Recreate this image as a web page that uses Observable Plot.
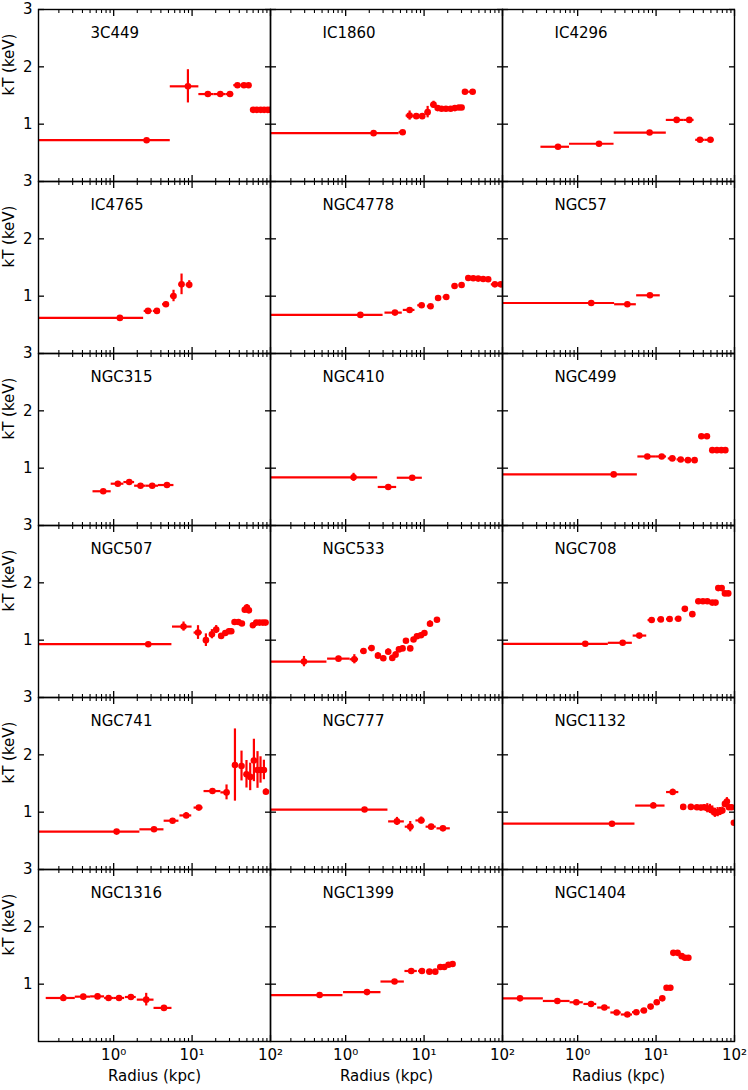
<!DOCTYPE html>
<html><head><meta charset="utf-8">
<script src="https://cdn.jsdelivr.net/npm/d3@7"></script>
<script src="https://cdn.jsdelivr.net/npm/@observablehq/plot@0.6"></script>
<style>body{margin:0;background:#fff}</style>
</head><body><div id="chart"></div>
<script>
// Each row: [radius kpc, radius low, radius high, kT keV, kT error]
const galaxies = ["3C449","IC1860","IC4296","IC4765","NGC4778","NGC57","NGC315","NGC410","NGC499",
  "NGC507","NGC533","NGC708","NGC741","NGC777","NGC1132","NGC1316","NGC1399","NGC1404"];

const g3C449 = [[2.63,0.01,5.27,0.72,0.02],[8.85,5.27,12.2,1.66,0.29],[15.9,12.2,19.0,1.525,0.02],[22.9,19.0,27.0,1.525,0.02],
  [30.4,27.0,34.0,1.525,0.02],[37.9,34.0,42.0,1.68,0.02],[45.8,42.0,49.0,1.68,0.02],[52.5,49.0,55.0,1.68,0.02],
  [60,56,63,1.25,0.02],[67,63,71,1.25,0.02],[75,71,79,1.25,0.02],[83,79,87,1.25,0.02],[92,87,96,1.25,0.02],[100,96,104,1.25,0.02]];
const gIC1860 = [[2.27,0.01,4.8,0.843,0.02],[5.33,4.8,5.9,0.86,0.03],[6.54,5.9,7.2,1.15,0.08],[7.95,7.2,8.7,1.14,0.04],
  [9.47,8.7,10.3,1.14,0.04],[11.1,10.3,12.1,1.21,0.10],[13.2,12.1,14.0,1.34,0.06],[14.9,14.0,15.8,1.28,0.03],
  [16.7,15.8,17.8,1.27,0.03],[19.0,17.8,20.4,1.27,0.03],[21.8,20.4,23.2,1.27,0.03],[24.7,23.2,26.2,1.28,0.03],
  [27.8,26.2,29.0,1.29,0.03],[30.1,29.0,31.5,1.29,0.03],[33.2,31.5,37.0,1.565,0.03],[41.6,37.0,46.0,1.565,0.03]];
const gIC4296 = [[0.561,0.34,0.787,0.606,0.02],[1.87,0.787,2.91,0.658,0.02],[8.27,2.92,13.5,0.854,0.02],
  [18.3,13.5,22.5,1.074,0.02],[26.5,22.5,30.5,1.074,0.02],[36.3,32.0,42.0,0.727,0.02],[49.3,42.0,55.0,0.727,0.02]];
const gIC4765 = [[1.20,0.01,2.41,0.621,0.02],[2.74,2.45,3.1,0.743,0.03],[3.56,3.2,3.95,0.743,0.03],[4.64,4.2,5.1,0.859,0.04],
  [5.80,5.3,6.3,1.003,0.10],[7.34,6.8,7.9,1.206,0.18],[9.2,8.4,10.0,1.20,0.07]];
const gNGC4778 = [[1.54,0.01,3.0,0.673,0.02],[4.25,3.17,5.27,0.713,0.02],[6.54,5.43,7.65,0.76,0.02],[9.3,8.3,10.3,0.841,0.02],
  [12.1,11.0,13.0,0.824,0.02],[15.1,14.0,16.2,0.968,0.03],[19.2,17.5,20.8,0.986,0.03],[24.5,22.8,26.0,1.177,0.03],
  [30.1,28.0,32.0,1.194,0.03],[36.6,34.5,39.0,1.317,0.02],[42.4,39.5,45.5,1.312,0.02],[49.0,46.0,52.5,1.306,0.02],
  [56.7,53.0,61.0,1.30,0.02],[65.7,61.5,70.0,1.294,0.02],[80,72,88,1.206,0.02],[95,88,102,1.206,0.02]];
const gNGC57 = [[1.49,0.01,2.96,0.881,0.02],[4.30,2.96,5.6,0.859,0.03],[8.35,5.65,11.3,1.015,0.03]];
const gNGC315 = [[0.736,0.545,0.93,0.597,0.02],[1.13,0.93,1.35,0.729,0.04],[1.58,1.35,1.85,0.758,0.04],
  [2.20,1.85,2.6,0.694,0.03],[3.10,2.6,3.73,0.694,0.03],[4.78,3.73,5.87,0.706,0.03]];
const gNGC410 = [[1.26,0.01,2.56,0.84,0.07],[3.49,2.6,4.47,0.672,0.04],[7.06,4.55,9.5,0.833,0.03]];
const gNGC499 = [[2.88,0.01,5.77,0.891,0.02],[7.73,5.86,10.1,1.204,0.02],[11.8,10.1,13.6,1.204,0.02],[16.1,14.3,18.0,1.17,0.02],
  [20.6,18.5,22.8,1.152,0.02],[25.5,23.2,28.0,1.14,0.02],[31.0,28.5,33.5,1.14,0.02],[37.8,35.5,41.0,1.556,0.03],
  [44.5,41.0,47.5,1.556,0.03],[52.1,49.5,55.5,1.314,0.02],[59.7,56.0,63.5,1.314,0.02],[67.9,64.0,72.0,1.314,0.02],
  [76.4,72.0,80.5,1.314,0.02]];
const gNGC507 = [[2.76,0.01,5.53,0.93,0.02],[7.78,5.63,10.0,1.237,0.08],[11.9,10.6,13.5,1.133,0.12],[15.0,14.0,16.2,1.0,0.11],
  [17.9,16.8,19.1,1.104,0.08],[20.3,19.4,21.4,1.185,0.07],[23.5,22.2,24.8,1.074,0.04],[26.5,25.2,27.8,1.126,0.04],
  [29.5,28.2,30.6,1.156,0.04],[31.6,30.6,33.0,1.156,0.04],[34.8,33.0,36.8,1.317,0.03],[39.0,37.0,41.0,1.317,0.03],
  [43.2,41.0,45.5,1.29,0.03],[47.0,45.5,48.8,1.53,0.05],[50.0,48.8,51.5,1.57,0.05],[53.0,51.5,55.0,1.52,0.05],
  [59.7,56.5,62.5,1.26,0.03],[65.8,62.5,69.0,1.306,0.03],[72.5,69.0,76.0,1.306,0.03],[80.0,76.0,83.5,1.306,0.03],
  [86.5,83.5,90.0,1.306,0.03]];
const gNGC533 = [[0.294,0.01,0.577,0.626,0.09],[0.81,0.588,1.14,0.678,0.04],[1.29,1.14,1.46,0.667,0.08],[1.69,1.55,1.84,0.81,0.04],
  [2.14,1.95,2.33,0.862,0.04],[2.58,2.42,2.76,0.73,0.05],[3.02,2.84,3.2,0.684,0.04],[3.49,3.3,3.7,0.799,0.05],
  [3.93,3.72,4.13,0.69,0.05],[4.33,4.15,4.55,0.747,0.05],[4.78,4.58,5.0,0.839,0.04],[5.32,5.05,5.6,0.856,0.04],
  [5.87,5.62,6.15,0.989,0.04],[6.66,6.3,7.0,0.856,0.04],[7.34,7.05,7.7,1.011,0.04],[8.11,7.75,8.5,1.069,0.04],
  [9.12,8.6,9.6,1.086,0.04],[10.1,9.65,10.6,1.126,0.04],[11.9,11.2,12.6,1.287,0.05],[14.6,13.8,15.5,1.356,0.03]];
const gNGC708 = [[1.25,0.01,2.46,0.937,0.02],[3.75,2.46,4.98,0.954,0.02],[6.11,5.1,7.6,1.08,0.02],[8.78,7.9,9.7,1.351,0.03],
  [11.5,10.5,12.6,1.362,0.02],[14.9,13.6,16.2,1.368,0.02],[19.2,17.5,21.0,1.374,0.02],[23.3,21.6,25.0,1.546,0.03],
  [29.0,27.0,31.0,1.454,0.03],[34.6,32.5,37.0,1.678,0.02],[39.6,37.0,42.3,1.678,0.02],[45.0,42.3,48.5,1.678,0.02],
  [52.0,49.0,55.0,1.655,0.02],[57.3,55.0,60.0,1.655,0.02],[62.1,60.0,65.0,1.908,0.03],[68.6,65.0,72.0,1.908,0.03],
  [75.5,72.0,79.0,1.816,0.03],[83.2,79.0,87.0,1.816,0.03]];
const gNGC741 = [[1.09,0.01,2.16,0.661,0.02],[3.27,2.16,4.38,0.701,0.02],[5.64,4.4,6.8,0.851,0.02],[8.42,7.0,9.9,0.943,0.05],
  [12.2,10.6,13.8,1.08,0.03],[18.2,14.2,23.3,1.368,0.03],[27.5,23.3,30.5,1.345,0.13],[35.2,33.0,38.0,1.822,0.63],
  [42.7,40.5,45.0,1.805,0.26],[49.4,47.0,52.0,1.661,0.24],[55.1,52.5,58.0,1.615,0.24],[61.4,58.5,64.5,1.902,0.37],
  [68.3,65.0,71.5,1.736,0.32],[74.6,71.5,78.0,1.736,0.23],[82.4,78.5,86.0,1.736,0.17],[87.4,85.0,90.0,1.356,0.05]];
const gNGC777 = [[1.74,0.01,3.46,1.046,0.02],[4.51,3.53,5.6,0.839,0.07],[6.66,5.75,7.48,0.747,0.09],[9.2,7.87,10.3,0.856,0.06],
  [12.3,10.6,14.3,0.747,0.04],[17.4,14.6,21.6,0.718,0.03]];
const gNGC1132 = [[2.74,0.01,5.38,0.799,0.02],[9.22,5.49,13.0,1.115,0.05],[16.3,13.6,19.5,1.351,0.05],[22.2,20.5,24.0,1.092,0.03],
  [27.8,25.8,30.0,1.092,0.03],[33.2,31.5,35.0,1.086,0.03],[37.3,35.5,39.0,1.08,0.04],[41.2,39.3,43.0,1.086,0.04],
  [45.0,43.2,46.8,1.069,0.08],[48.6,46.8,50.3,1.057,0.08],[52.1,50.3,54.0,1.029,0.08],[56.2,54.0,58.5,0.989,0.08],
  [60.9,58.5,63.0,1.0,0.08],[65.2,63.0,67.5,1.011,0.07],[70.0,67.5,72.5,1.029,0.06],[75.5,72.5,78.0,1.144,0.06],
  [80.0,78.0,82.5,1.184,0.07],[84.9,82.5,88.0,1.086,0.04],[91.8,88.0,95.0,1.086,0.04],[98.2,95.0,102,0.816,0.03]];
const gNGC1316 = [[0.228,0.138,0.324,0.759,0.06],[0.41,0.324,0.508,0.782,0.04],[0.623,0.508,0.766,0.787,0.04],
  [0.861,0.766,1.0,0.759,0.04],[1.17,1.0,1.38,0.759,0.04],[1.66,1.41,1.94,0.776,0.04],[2.60,2.0,3.27,0.73,0.11],
  [4.38,3.27,5.54,0.586,0.02]];
const gNGC1399 = [[0.465,0.01,0.923,0.81,0.02],[1.87,0.94,2.82,0.862,0.02],[4.2,2.82,5.6,1.046,0.02],[6.86,5.7,8.2,1.23,0.02],
  [9.4,8.5,10.4,1.23,0.02],[11.7,10.8,12.7,1.218,0.02],[13.9,13.0,14.9,1.218,0.02],[16.1,15.1,17.1,1.299,0.02],
  [18.1,17.2,19.2,1.299,0.02],[20.5,19.4,21.7,1.339,0.02],[23.1,22.0,24.3,1.351,0.02]];
const gNGC1404 = [[0.184,0.01,0.365,0.753,0.02],[0.551,0.365,0.8,0.707,0.02],[0.962,0.8,1.18,0.684,0.02],[1.48,1.2,1.75,0.655,0.02],
  [2.19,1.8,2.6,0.592,0.02],[3.14,2.65,3.6,0.506,0.02],[4.30,3.6,5.0,0.471,0.02],[5.60,5.0,6.2,0.511,0.02],
  [7.0,6.4,7.7,0.54,0.02],[8.52,7.9,9.2,0.609,0.02],[10.2,9.5,10.9,0.684,0.02],[12.0,11.2,12.8,0.753,0.02],
  [13.6,13.0,14.3,0.937,0.02],[15.2,14.5,15.9,0.937,0.02],[16.6,16.0,17.4,1.546,0.02],[18.8,17.9,19.7,1.546,0.02],
  [21.2,20.2,22.2,1.489,0.02],[23.4,22.3,24.5,1.46,0.02],[25.8,24.6,27.0,1.46,0.02]];

const profiles = [g3C449,gIC1860,gIC4296,gIC4765,gNGC4778,gNGC57,gNGC315,gNGC410,gNGC499,
  gNGC507,gNGC533,gNGC708,gNGC741,gNGC777,gNGC1132,gNGC1316,gNGC1399,gNGC1404];

const xMajor = [1, 10, 100];
const xMajorLabels = ["10⁰", "10¹", "10²"];
const xMinor = [0.2,0.3,0.4,0.5,0.6,0.7,0.8,0.9,2,3,4,5,6,7,8,9,20,30,40,50,60,70,80,90];
const yTicks = [1, 2, 3];

const panels = galaxies.map((g, i) => ({g, col: i % 3, row: Math.floor(i / 3)}));
const points = panels.flatMap((p, i) => profiles[i].map(([r, rlo, rhi, kT, e]) =>
  ({...p, r, rlo, rhi, kT, lo: kT - e, hi: kT + e})));
const leftPanels = panels.filter(p => p.col === 0);
const bottomPanels = panels.filter(p => p.row === 5);
const bottomTickLabels = bottomPanels.flatMap(p => xMajor.map((v, j) => ({...p, v, label: xMajorLabels[j]})));

const red = "#ff0000";
const fs = 15;

const chart = Plot.plot({
  width: 748,
  height: 1090,
  marginLeft: 37,
  marginRight: 14,
  marginTop: 6,
  marginBottom: 46.7,
  style: {fontFamily: "DejaVu Sans", fontSize: "15px", background: "white", color: "black"},
  fx: {padding: 0, axis: null},
  fy: {padding: 0, axis: null},
  x: {type: "log", domain: [0.11, 100], axis: null},
  y: {domain: [0, 3], axis: null},
  marks: [
    Plot.ruleY(points, {fx: "col", fy: "row", y: "kT", x1: "rlo", x2: "rhi", stroke: red, strokeWidth: 2.2, clip: true}),
    Plot.ruleX(points, {fx: "col", fy: "row", x: "r", y1: "lo", y2: "hi", stroke: red, strokeWidth: 2.2, clip: true}),
    Plot.dot(points, {fx: "col", fy: "row", x: "r", y: "kT", r: 3.3, fill: red, stroke: "none", clip: true}),
    Plot.frame({stroke: "black", strokeWidth: 1.4}),
    Plot.axisX(xMajor, {anchor: "bottom", tickSize: -6, fill: "none", facetAnchor: null, strokeWidth: 1.3}),
    Plot.axisX(xMajor, {anchor: "top", tickSize: -6, fill: "none", facetAnchor: null, strokeWidth: 1.3}),
    Plot.axisX(xMinor, {anchor: "bottom", tickSize: -3, fill: "none", facetAnchor: null, strokeWidth: 1.1}),
    Plot.axisX(xMinor, {anchor: "top", tickSize: -3, fill: "none", facetAnchor: null, strokeWidth: 1.1}),
    Plot.axisY(yTicks, {anchor: "left", tickSize: -6, fill: "none", facetAnchor: null, strokeWidth: 1.3}),
    Plot.axisY(yTicks, {anchor: "right", tickSize: -6, fill: "none", facetAnchor: null, strokeWidth: 1.3}),
    Plot.axisY(yTicks, {anchor: "left", tickSize: 0, tickPadding: 6, label: null, fontSize: fs, tickFormat: d => String(d)}),
    Plot.text(bottomTickLabels, {fx: "col", fy: "row", x: "v", text: "label", frameAnchor: "bottom", dy: 14,
      lineAnchor: "middle", fontSize: fs}),
    Plot.text(panels, {fx: "col", fy: "row", text: "g", frameAnchor: "top-left", dx: 52, dy: 23.3,
      textAnchor: "start", lineAnchor: "middle", fontSize: fs}),
    Plot.text(leftPanels, {fx: "col", fy: "row", text: () => "kT (keV)", frameAnchor: "left", dx: -29,
      rotate: -90, lineAnchor: "middle", fontSize: fs}),
    Plot.text(bottomPanels, {fx: "col", fy: "row", text: () => "Radius (kpc)", frameAnchor: "bottom", dy: 35,
      lineAnchor: "middle", fontSize: fs})
  ]
});
document.getElementById("chart").appendChild(chart);
</script>
</body></html>
